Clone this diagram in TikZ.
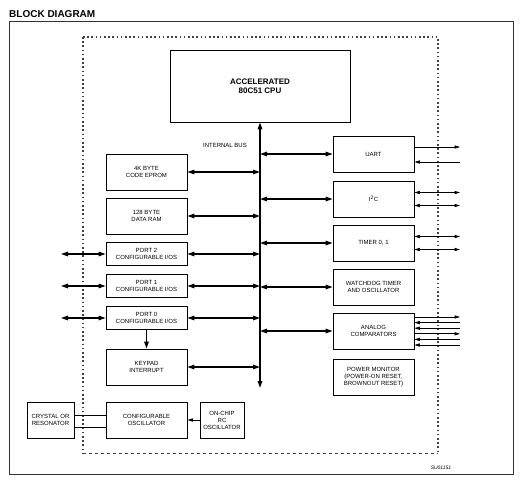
\documentclass[tikz,border=0pt]{standalone}
\usepackage{fontspec}
\setmainfont{Liberation Sans}
\usetikzlibrary{arrows.meta}

\begin{document}
\begin{tikzpicture}[x=1pt, y=-1pt,
			blk/.style = {draw, line width=0.8pt, inner sep=0pt,
				minimum width=81pt, minimum height=36pt, align=center,
				font=\fontsize{6}{7}\selectfont},
			port/.style = {blk, minimum height=23pt},
			dbl/.style = {{Triangle[length=7pt,width=4.5pt]}-{Triangle[length=7pt,width=4.5pt]}, line width=1.2pt},
			sout/.style = {-{Triangle[length=5.5pt,width=3.2pt]}, line width=0.7pt},
			sin/.style = {{Triangle[length=5.5pt,width=3.2pt]}-, line width=0.7pt},
			sboth/.style = {{Triangle[length=5.5pt,width=3.2pt]}-{Triangle[length=5.5pt,width=3.2pt]}, line width=0.7pt}]
			\useasboundingbox (0,0) rectangle (520,480);
			% frame and chip outline
			\node[anchor=base west, inner sep=0pt, font=\bfseries\fontsize{10}{12}\selectfont] (title) at (9,17.5) {BLOCK DIAGRAM};
			\draw[line width=0.9pt, black!80] (9,21) rectangle (513,474);
			\draw[line width=1.2pt, black!75, dash pattern=on 1.5pt off 2.7pt] (83,37) -- (438,37) -- (438,453);
			\draw[line width=1.2pt, black!75, dash pattern=on 1.5pt off 2.7pt] (83,37) -- (83,453);
			\draw[line width=0.9pt, black!75, dash pattern=on 3pt off 3pt] (83,453) -- (438,453);
			% core and bus
			\node[blk, minimum width=180pt, minimum height=72pt, font=\bfseries\fontsize{8}{9}\selectfont] (cpu) at (260,86) {ACCELERATED\\80C51 CPU};
			\coordinate (busbot) at (260,388);
			\draw[dbl, line width=1.4pt] (busbot) -- (cpu.south);
			\node[font=\fontsize{6}{7}\selectfont] (buslabel) at (225,145) {INTERNAL BUS};
			% left column
			\node[blk] (eprom) at (146.5,172) {4K BYTE\\CODE EPROM};
			\node[blk] (ram) at (146.5,216) {128 BYTE\\DATA RAM};
			\node[port] (port2) at (146.5,254) {PORT 2\\CONFIGURABLE I/OS};
			\node[port] (port1) at (146.5,286) {PORT 1\\CONFIGURABLE I/OS};
			\node[port] (port0) at (146.5,318) {PORT 0\\CONFIGURABLE I/OS};
			\node[blk] (keypad) at (146.5,367) {KEYPAD\\INTERRUPT};
			\node[blk] (cfgosc) at (146.5,420) {CONFIGURABLE\\OSCILLATOR};
			\node[blk, minimum width=47pt] (crystal) at (50.5,420) {CRYSTAL OR\\RESONATOR};
			\node[blk, minimum width=44pt] (rcosc) at (222,420) {ON-CHIP\\RC\\OSCILLATOR};
			% right column
			\node[blk] (uart) at (373.5,154) {UART};
			\node[blk] (iic) at (373.5,199) {I\textsuperscript{2}C};
			\node[blk] (timer) at (373.5,243) {TIMER 0, 1};
			\node[blk] (wdt) at (373.5,287) {WATCHDOG TIMER\\AND OSCILLATOR};
			\node[blk] (adc) at (373.5,331) {ANALOG\\COMPARATORS};
			\node[blk] (pwr) at (373.5,377) {POWER MONITOR\\(POWER-ON RESET,\\BROWNOUT RESET)};
			\node[font=\itshape\fontsize{5}{6}\selectfont] (figid) at (441,468) {SU01151};
			% bus connections
			\foreach \n in {eprom,ram,port2,port1,port0,keypad,uart,iic,timer,wdt,adc}
				\draw[dbl] (\n) -- (\n -| cpu.south);
			\coordinate (pinL) at (61,0);
			\coordinate (pinR) at (460,0);
			\foreach \n in {port2,port1,port0}
				\draw[dbl] (\n) -- (\n -| pinL);
			\draw[-{Triangle[length=7pt,width=4.5pt]}, line width=1.2pt] (port0) -- (keypad);
			\foreach \n/\dy/\s in {uart/7/sout, uart/-8/sin, iic/6.5/sboth, iic/-6.5/sboth,
					timer/6.5/sboth, timer/-6.5/sboth, adc/14/sout, adc/8.4/sin,
					adc/2.8/sin, adc/-2.8/sout, adc/-8.4/sin, adc/-14/sin}
				\draw[\s] ([yshift=\dy pt]\n.east) -- ([yshift=\dy pt]\n.east -| pinR);
			% clock sources
			\draw[line width=0.7pt] ([yshift=5pt]crystal.east) -- ([yshift=5pt]cfgosc.west);
			\draw[line width=0.7pt] ([yshift=-7pt]crystal.east) -- ([yshift=-7pt]cfgosc.west);
			\draw[sout] (rcosc) -- (cfgosc);
\end{tikzpicture}
\end{document}
